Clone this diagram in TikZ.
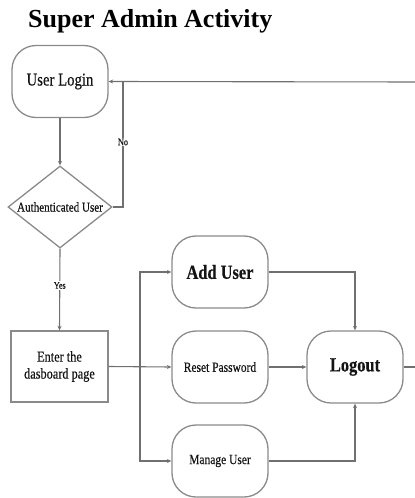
\documentclass[tikz,border=0pt]{standalone}
\usepackage{fontspec}
\setmainfont{Liberation Serif}
\newfontfamily\nodefont[FakeStretch=0.82, FakeBold=0.5]{Liberation Serif}
\usetikzlibrary{shapes.geometric,arrows.meta}

\definecolor{edgegray}{HTML}{8A8A8A}
\definecolor{linegray}{HTML}{707070}
\definecolor{inkdark}{HTML}{141414}

\tikzset{
  stadium/.style={draw=edgegray, line width=1.3pt, rounded corners=24pt,
    minimum width=96pt, minimum height=72pt, inner sep=0pt, align=center,
    text=inkdark, font=\nodefont\fontsize{14}{16}\selectfont},
  bigtext/.style={font=\nodefont\bfseries\fontsize{20}{22}\selectfont},
  plainbox/.style={draw=edgegray, line width=1.3pt,
    minimum width=97pt, minimum height=71pt, inner sep=0pt, align=center,
    text=inkdark, font=\nodefont\fontsize{15}{17}\selectfont},
  decision/.style={draw=edgegray, line width=1.3pt, diamond,
    minimum width=104pt, minimum height=82pt, inner sep=0pt},
  flow/.style={draw=linegray, line width=1.1pt},
  arrowflow/.style={flow, -{Stealth[length=4.5pt,width=4pt]}},
  tag/.style={fill=white, inner sep=1pt, text=inkdark,
    font=\nodefont\fontsize{10}{11}\selectfont}
}

\begin{document}
\begin{tikzpicture}[x=1pt, y=-1pt]
  \useasboundingbox (0,0) rectangle (415,498);
  \clip (0,0) rectangle (415,498);

  % heading
  \node[anchor=base west, inner sep=0pt, font=\bfseries\fontsize{26}{28}\selectfont]
    (title) at (28,27) {Super Admin Activity};

  % left column
  \node[stadium, font=\nodefont\fontsize{18}{20}\selectfont] (login) at (60,81.5) {User Login};
  \node[decision] (auth) at (60,207) {};
  \node[text=inkdark, font=\nodefont\fontsize{13.5}{15}\selectfont, inner sep=0pt]
    (authtext) at (auth.center) {Authenticated User};
  \node[plainbox] (enter) at (59.5,366.5) {Enter the\\dasboard page};

  % actions
  \node[stadium, bigtext] (add) at (220,272) {Add User};
  \node[stadium] (reset) at (220,367) {Reset Password};
  \node[stadium] (manage) at (220,461) {Manage User};
  \node[stadium, bigtext] (logout) at (355,367) {Logout};

  % routing points
  \coordinate (nolow) at (123,207);
  \coordinate (nohigh) at (123,82);
  \coordinate (split) at (140,367);
  \coordinate (backin) at (420,82);
  \coordinate (backout) at (420,367);

  % login and authentication
  \draw[arrowflow] (login.south) -- (auth.north);
  \draw[flow] (auth.east) -- (nolow) -- (nohigh)
    node[tag, pos=0.52] (notag) {No};
  \draw[arrowflow] (backin) -- (login.east);
  \draw[arrowflow] (auth.south) -- (enter.north)
    node[tag, pos=0.45] (yestag) {Yes};

  % dashboard branches
  \draw[arrowflow] (enter.east) -- (reset.west);
  \draw[arrowflow] (split) |- (add.west);
  \draw[arrowflow] (split) |- (manage.west);

  % towards logout
  \draw[arrowflow] (add.east) -| (logout.north);
  \draw[arrowflow] (reset.east) -- (logout.west);
  \draw[arrowflow] (manage.east) -| (logout.south);
  \draw[flow] (logout.east) -- (backout);
\end{tikzpicture}
\end{document}
